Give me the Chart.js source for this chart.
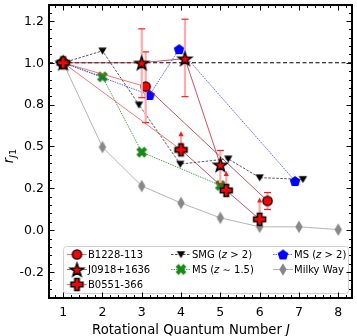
<!DOCTYPE html>
<html><head><meta charset="utf-8">
<script src="https://cdn.jsdelivr.net/npm/chart.js@4.4.1/dist/chart.umd.min.js"></script>
<style>html,body{margin:0;padding:0;background:#fff;}canvas{display:block;}</style>
</head><body>
<canvas id="c" width="357" height="336"></canvas>
<script>
// ---------------- data ----------------
const b1228J = [1, 3.1, 6.2];
const b1228R = [1.0, 0.886, 0.340];
const b1228ErrLo = [0, 0.172, 0.041];
const b1228ErrHi = [0, 0.166, 0.040];

const j0918J = [1, 3, 4.1, 5];
const j0918R = [1.0, 1.0, 1.02, 0.513];
const j0918ErrLo = [0, 0.167, 0.182, 0.09];
const j0918ErrHi = [0, 0.162, 0.188, 0.068];

const b0551J = [1, 4, 5.15, 6];
const b0551R = [1.0, 0.584, 0.390, 0.252];
const b0551LimitTip = [null, 0.668, 0.478, 0.352];

const smgJ = [1, 2, 2.93, 3.98, 5.2, 6, 7.1];
const smgR = [1.0, 1.057, 0.799, 0.516, 0.541, 0.451, 0.443];

const ms15J = [1, 2, 3, 5];
const ms15R = [1.0, 0.933, 0.573, 0.414];

const ms2J = [1, 3.2, 3.95, 6.9];
const ms2R = [1.0, 0.846, 1.065, 0.435];

const mwJ = [1, 2, 3, 4, 5, 6, 7, 8];
const mwR = [1.0, 0.597, 0.411, 0.330, 0.259, 0.216, 0.216, 0.203];

const refLevel = 1.0;
const xTicks = [1, 2, 3, 4, 5, 6, 7, 8];
const yTickValues = [1.2, 1.0, 0.8, 0.6, 0.4, 0.2, 0.0];
const yTickLabels = ['1.2', '1.0', '0.8', '0.5', '0.2', '0.0', '-0.2'];
const seriesNames = ['B1228-113', 'J0918+1636', 'B0551-366', 'SMG', 'MS', 'MS', 'Milky Way'];

// ---------------- markers ----------------
const FONT = '"DejaVu Sans", Verdana, sans-serif';
function mk(w, h, draw) {
  const c = document.createElement('canvas'); c.width = w; c.height = h;
  const g = c.getContext('2d'); g.translate(w / 2, h / 2); draw(g); return c;
}
function poly(g, pts) { g.beginPath(); pts.forEach((p, i) => i ? g.lineTo(p[0], p[1]) : g.moveTo(p[0], p[1])); g.closePath(); }
function plusPts(a, b) { return [[-b,-a],[b,-a],[b,-b],[a,-b],[a,b],[b,b],[b,a],[-b,a],[-b,b],[-a,b],[-a,-b],[-b,-b]]; }
const circleImg = mk(13, 13, g => { g.beginPath(); g.arc(0, 0, 4.6, 0, Math.PI * 2); g.fillStyle = '#ff0000'; g.fill(); g.lineWidth = 1.4; g.strokeStyle = '#000'; g.stroke(); });
const starImg = mk(19, 19, g => {
  const pts = []; for (let i = 0; i < 10; i++) { const r = i % 2 ? 2.8 : 7.0; const a = -Math.PI / 2 + i * Math.PI / 5; pts.push([r * Math.cos(a), r * Math.sin(a) + 0.8]); }
  poly(g, pts); g.fillStyle = '#ff0000'; g.fill(); g.lineWidth = 1.5; g.strokeStyle = '#000'; g.lineJoin = 'miter'; g.stroke();
});
const plusImg = mk(17, 17, g => { poly(g, plusPts(6.0, 2.2)); g.fillStyle = '#ff0000'; g.fill(); g.lineWidth = 1.5; g.strokeStyle = '#000'; g.stroke(); });
const triImg = mk(11, 11, g => { poly(g, [[-4.2, -3.3], [4.2, -3.3], [0, 3.8]]); g.fillStyle = '#000'; g.fill(); });
const xImg = mk(14, 14, g => { g.rotate(Math.PI / 4); poly(g, plusPts(5.6, 2.1)); g.fillStyle = '#168a16'; g.fill(); });
const pentImg = mk(14, 14, g => {
  const pts = []; for (let i = 0; i < 5; i++) { const a = -Math.PI / 2 + i * 2 * Math.PI / 5; pts.push([5.6 * Math.cos(a), 5.6 * Math.sin(a) + 0.5]); }
  poly(g, pts); g.fillStyle = '#0000ff'; g.fill();
});
const diaImg = mk(10, 15, g => { poly(g, [[0, -6.2], [3.7, 0], [0, 6.2], [-3.7, 0]]); g.fillStyle = '#888888'; g.fill(); });

const LIGHT = 'rgba(255,70,70,0.75)';
const DARK = 'rgba(175,25,55,0.75)';
const pts = (xs, ys) => xs.map((x, i) => ({ x, y: ys[i] }));

const datasets = [
  { label: seriesNames[2], data: pts(b0551J, b0551R), pointStyle: plusImg, order: 0, limits: b0551LimitTip,
    borderColor: DARK, segment: { borderColor: c => c.p0.parsed.x === 1 ? LIGHT : DARK } },
  { label: seriesNames[1], data: pts(j0918J, j0918R), pointStyle: starImg, order: 1, errLo: j0918ErrLo, errHi: j0918ErrHi,
    borderColor: DARK },
  { label: seriesNames[0], data: pts(b1228J, b1228R), pointStyle: circleImg, order: 2, errLo: b1228ErrLo, errHi: b1228ErrHi,
    borderColor: LIGHT, segment: { borderColor: c => c.p0.parsed.x === 1 ? LIGHT : DARK } },
  { label: 'ref', data: [{ x: 0.64, y: refLevel }, { x: 8.35, y: refLevel }], pointRadius: 0, order: 3,
    borderColor: '#000', borderWidth: 1, borderDash: [4, 2.5] },
  { label: seriesNames[3], data: pts(smgJ, smgR), pointStyle: triImg, order: 4,
    borderColor: 'rgba(0,0,0,0.75)', borderWidth: 0.9, borderDash: [2.5, 1.5] },
  { label: seriesNames[5], data: pts(ms2J, ms2R), pointStyle: pentImg, order: 5,
    borderColor: 'rgba(40,40,255,0.8)', borderWidth: 0.9, borderDash: [1.5, 1] },
  { label: seriesNames[4], data: pts(ms15J, ms15R), pointStyle: xImg, order: 6,
    borderColor: 'rgba(20,140,20,0.85)', borderWidth: 0.9, borderDash: [1.5, 1] },
  { label: seriesNames[6], data: pts(mwJ, mwR), pointStyle: diaImg, order: 7,
    borderColor: 'rgba(150,150,150,0.8)', borderWidth: 0.9 }
];
datasets.forEach(d => { d.showLine = true; if (d.pointRadius === undefined) d.pointRadius = 4; if (!d.borderWidth) d.borderWidth = 1; d.fill = false; });

// ---------------- plugins ----------------
const errPlugin = {
  id: 'errbars',
  beforeDatasetDraw(chart, args) {
    const ds = chart.data.datasets[args.index];
    const { ctx, scales: { x, y } } = chart;
    ctx.save();
    if (ds.errLo) {
      ds.data.forEach((p, i) => {
        if (!ds.errLo[i] && !ds.errHi[i]) return;
        const px = x.getPixelForValue(p.x);
        const y1 = y.getPixelForValue(p.y + ds.errHi[i]), y2 = y.getPixelForValue(p.y - ds.errLo[i]);
        ctx.strokeStyle = '#ffabab'; ctx.lineWidth = 2.2;
        ctx.beginPath(); ctx.moveTo(px, y1); ctx.lineTo(px, y2); ctx.stroke();
        ctx.strokeStyle = '#ff1a1a'; ctx.lineWidth = 1.2;
        [y1, y2].forEach(yy => { ctx.beginPath(); ctx.moveTo(px - 3.5, yy); ctx.lineTo(px + 3.5, yy); ctx.stroke(); });
      });
    }
    if (ds.limits) {
      ds.data.forEach((p, i) => {
        const t = ds.limits[i]; if (t == null) return;
        const px = x.getPixelForValue(p.x), py = y.getPixelForValue(p.y), ty = y.getPixelForValue(t);
        ctx.strokeStyle = '#ffabab'; ctx.lineWidth = 2.2;
        ctx.beginPath(); ctx.moveTo(px, py); ctx.lineTo(px, ty + 3); ctx.stroke();
        ctx.fillStyle = '#ff1a1a';
        ctx.beginPath(); ctx.moveTo(px, ty - 1); ctx.lineTo(px + 2.6, ty + 4); ctx.lineTo(px - 2.6, ty + 4); ctx.closePath(); ctx.fill();
      });
    }
    ctx.restore();
  }
};

function txtRuns(ctx, runs, x, y, align) {
  const w = runs.reduce((s, r) => { ctx.font = (r[1] ? 'italic ' : '') + r[2] + 'px ' + FONT; return s + ctx.measureText(r[0]).width; }, 0);
  let cx = align === 'center' ? x - w / 2 : (align === 'right' ? x - w : x);
  runs.forEach(r => { ctx.font = (r[1] ? 'italic ' : '') + r[2] + 'px ' + FONT; ctx.fillText(r[0], cx, y + (r[3] || 0)); cx += ctx.measureText(r[0]).width; });
}

const legendRows = [
  { ds: 2, col: 0, row: 0, runs: [[seriesNames[0], false, 10]] },
  { ds: 1, col: 0, row: 1, runs: [[seriesNames[1], false, 10]] },
  { ds: 0, col: 0, row: 2, runs: [[seriesNames[2], false, 10]] },
  { ds: 4, col: 1, row: 0, runs: [['SMG (', false, 10], ['z', true, 10], [' > 2)', false, 10]] },
  { ds: 6, col: 1, row: 1, runs: [['MS (', false, 10], ['z', true, 10], [' \u223C 1.5)', false, 10]] },
  { ds: 5, col: 2, row: 0, runs: [['MS (', false, 10], ['z', true, 10], [' > 2)', false, 10]] },
  { ds: 7, col: 2, row: 1, runs: [['Milky Way', false, 10]] }
];

const decorPlugin = {
  id: 'decor',
  afterDraw(chart) {
    const { ctx, chartArea: a, scales: { x, y } } = chart;
    ctx.save();
    // legend
    const lx = 63, ly = 246, lw = 285, lh = 47;
    ctx.beginPath(); ctx.roundRect(lx + 0.5, ly + 0.5, lw, lh, 3);
    ctx.fillStyle = 'rgba(255,255,255,0.8)'; ctx.fill();
    ctx.strokeStyle = '#d0d0d0'; ctx.lineWidth = 1; ctx.stroke();
    const colX = [67, 171, 273], rowY = [254.5, 269.5, 284.5];
    legendRows.forEach(e => {
      const ds = chart.data.datasets[e.ds];
      const hx = colX[e.col], hy = rowY[e.row];
      ctx.save();
      let col = ds.borderColor;
      if (e.ds === 2 || e.ds === 0) col = LIGHT;
      ctx.strokeStyle = col; ctx.lineWidth = ds.borderWidth; ctx.setLineDash(ds.borderDash || []);
      ctx.beginPath(); ctx.moveTo(hx, hy); ctx.lineTo(hx + 20, hy); ctx.stroke();
      ctx.restore();
      const im = ds.pointStyle; ctx.drawImage(im, hx + 10 - im.width / 2, hy - im.height / 2);
      ctx.fillStyle = '#000'; ctx.textBaseline = 'alphabetic';
      txtRuns(ctx, e.runs, hx + 21, hy + 3.7, 'left');
    });
    // frame
    ctx.strokeStyle = '#000'; ctx.lineWidth = 2;
    ctx.strokeRect(a.left, a.top, a.right - a.left, a.bottom - a.top);
    // inward ticks
    ctx.lineWidth = 1;
    const seg = (x1, y1, x2, y2) => { ctx.beginPath(); ctx.moveTo(x1, y1); ctx.lineTo(x2, y2); ctx.stroke(); };
    for (let k = Math.ceil(x.min / 0.2 - 1e-9); k * 0.2 <= x.max + 1e-9; k++) {
      const v = k * 0.2, major = Math.abs(v - Math.round(v)) < 1e-6, L = major ? 5.5 : 3;
      const px = Math.round(x.getPixelForValue(v)) + 0.5;
      seg(px, a.bottom, px, a.bottom - L); seg(px, a.top, px, a.top + L);
    }
    for (let k = Math.ceil(y.min / 0.04 - 1e-9); k * 0.04 <= y.max + 1e-9; k++) {
      const v = k * 0.04, major = Math.abs(v / 0.2 - Math.round(v / 0.2)) < 1e-6, L = major ? 5.5 : 3;
      const py = Math.round(y.getPixelForValue(v)) + 0.5;
      seg(a.left, py, a.left + L, py); seg(a.right, py, a.right - L, py);
    }
    // y tick labels
    ctx.fillStyle = '#000'; ctx.textBaseline = 'middle';
    yTickValues.forEach((v, i) => txtRuns(ctx, [[yTickLabels[i], false, 12.5]], a.left - 5, y.getPixelForValue(v) + 0.5, 'right'));
    // axis titles
    ctx.textBaseline = 'alphabetic';
    txtRuns(ctx, [['Rotational Quantum Number ', false, 13.2], ['J', true, 13.2]], 191, 334, 'center');
    ctx.save(); ctx.translate(13, 156); ctx.rotate(-Math.PI / 2);
    txtRuns(ctx, [['r', true, 13.2], ['J', true, 9.5, 2.8], ['1', false, 9.5, 2.8]], 0, 0, 'center');
    ctx.restore();
    ctx.restore();
  }
};

new Chart(document.getElementById('c'), {
  type: 'scatter',
  data: { datasets },
  options: {
    responsive: false, animation: false, devicePixelRatio: 1, events: [],
    layout: { padding: { top: 4, right: 4, left: 0, bottom: 0 } },
    plugins: { legend: { display: false }, tooltip: { enabled: false } },
    scales: {
      x: {
        type: 'linear', min: 0.64, max: 8.35,
        afterFit: s => { s.height = 38; },
        afterBuildTicks: s => { s.ticks = xTicks.map(v => ({ value: v })); },
        ticks: { stepSize: 1, callback: v => String(v), font: { family: FONT, size: 12.5 }, color: '#000', padding: 7, maxRotation: 0, autoSkip: false },
        grid: { display: false, drawTicks: false }, border: { display: false }
      },
      y: {
        type: 'linear', min: -0.124, max: 1.276,
        afterFit: s => { s.width = 49; },
        ticks: { display: false },
        grid: { display: false, drawTicks: false }, border: { display: false }
      }
    }
  },
  plugins: [errPlugin, decorPlugin]
});
</script>
</body></html>
